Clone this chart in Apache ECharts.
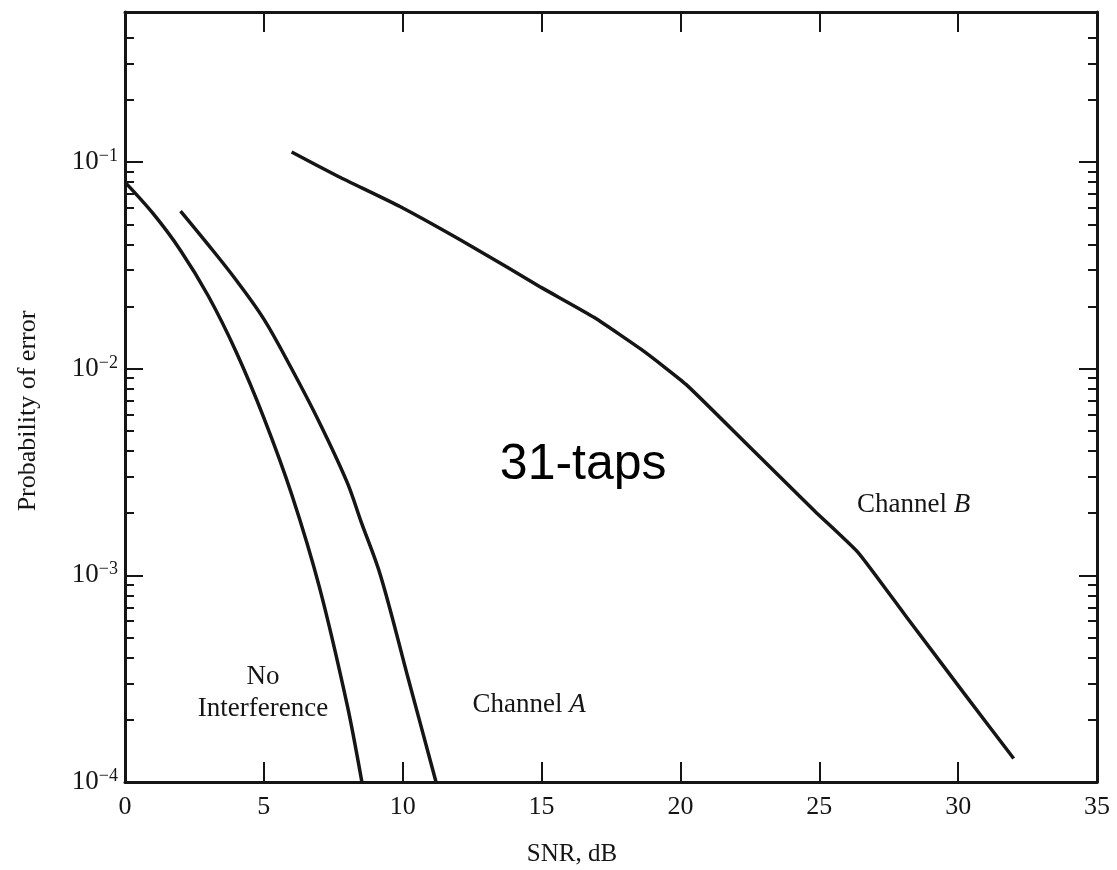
<!DOCTYPE html>
<html>
<head>
<meta charset="utf-8">
<script src="https://cdn.jsdelivr.net/npm/echarts@6/dist/echarts.min.js"></script>
<style>
  html, body { margin: 0; padding: 0; background: #ffffff; }
  #chart { width: 1117px; height: 870px; }
</style>
</head>
<body>
<div id="chart"></div>
<script>
// SNR (dB) and probability of error for each equalizer curve
const snrNoInterference = [0, 1, 2, 3, 4, 5, 6, 7, 8, 8.53];
const perNoInterference = [0.080, 0.0566, 0.0374, 0.0225, 0.0121, 5.79e-3, 2.47e-3, 8.77e-4, 2.36e-4, 1.0e-4];

const snrChannelA = [2.0, 3.0, 4.0, 5.0, 6.0, 7.0, 8.0, 8.5, 9.2, 10.2, 11.2];
const perChannelA = [0.058, 0.0398, 0.0269, 0.0174, 0.0100, 5.5e-3, 2.82e-3, 1.82e-3, 1.0e-3, 3.16e-4, 1.0e-4];

const snrChannelB = [6.0, 7.7, 9.9, 12.5, 15.0, 16.9, 18.7, 20.2, 22.35, 24.85, 26.4, 28.1, 30.2, 32.0];
const perChannelB = [0.112, 0.085, 0.061, 0.039, 0.0247, 0.0177, 0.0121, 8.4e-3, 4.37e-3, 2.04e-3, 1.29e-3, 6.4e-4, 2.7e-4, 1.3e-4];

// Axis ranges and tick values
const snrTicks = [0, 5, 10, 15, 20, 25, 30, 35];
const perMajorTicks = [1e-4, 1e-3, 1e-2, 1e-1];
const perMinorTicks = [
  2e-4, 3e-4, 4e-4, 5e-4, 6e-4, 7e-4, 8e-4, 9e-4,
  2e-3, 3e-3, 4e-3, 5e-3, 6e-3, 7e-3, 8e-3, 9e-3,
  2e-2, 3e-2, 4e-2, 5e-2, 6e-2, 7e-2, 8e-2, 9e-2,
  0.2, 0.3, 0.4
];
const perMin = 1e-4;
const perMax = 0.533;

// Text placed inside the plot: [snr, probability]
const curveNotes = [
  { text: 'No\nInterference', at: [4.97, 2.7e-4] },
  { text: 'Channel {i|A}', at: [14.55, 2.36e-4] },
  { text: 'Channel {i|B}', at: [28.4, 2.19e-3] }
];
const headline = { text: '31-taps', at: [16.5, 3.4e-3] };

const INK = '#151515';
const SERIF = '"Liberation Serif", "DejaVu Serif", "Times New Roman", serif';
const SANS = '"Liberation Sans", Arial, sans-serif';

const pairs = (xs, ys) => xs.map((x, i) => [x, ys[i]]);

const axisLine = { show: true, lineStyle: { color: INK, width: 3 } };

function powerLabel(v) {
  const e = Math.round(Math.log10(v));
  return '{b|10}{s|\u2212' + (-e) + '}';
}

function xAxisDef(position, showLabels) {
  return {
    type: 'value', min: snrTicks[0], max: snrTicks[snrTicks.length - 1],
    interval: snrTicks[1] - snrTicks[0],
    position: position,
    axisLine: axisLine,
    axisTick: { show: true, inside: true, length: 20, lineStyle: { color: INK, width: 2 } },
    axisLabel: {
      show: showLabels, color: INK, fontFamily: SERIF, fontSize: 26, margin: 12
    },
    splitLine: { show: false }
  };
}

function yAxisDef(position, ticks, len, withLine, withLabels) {
  return {
    type: 'log', logBase: 10, min: perMin, max: perMax,
    position: position,
    axisLine: withLine ? axisLine : { show: false },
    axisTick: { show: true, inside: true, length: len, customValues: ticks,
                lineStyle: { color: INK, width: 2 } },
    axisLabel: withLabels ? {
      show: true, customValues: ticks, margin: 7,
      formatter: powerLabel,
      rich: {
        b: { fontFamily: SERIF, fontSize: 27, color: INK, lineHeight: 30 },
        s: { fontFamily: SERIF, fontSize: 18, color: INK, lineHeight: 14, verticalAlign: 'top' }
      }
    } : { show: false },
    splitLine: { show: false },
    minorTick: { show: false },
    minorSplitLine: { show: false }
  };
}

const lineStyle = { color: INK, width: 3.5 };
function curve(name, xs, ys, smooth) {
  return {
    name: name, type: 'line', xAxisIndex: 0, yAxisIndex: 0,
    data: pairs(xs, ys), showSymbol: false, symbol: 'none',
    smooth: smooth, lineStyle: lineStyle, z: 5, animation: false
  };
}

const chart = echarts.init(document.getElementById('chart'), null, { renderer: 'canvas' });

chart.setOption({
  backgroundColor: '#ffffff',
  animation: false,
  grid: { left: 125, right: 20, top: 12, bottom: 88, containLabel: false },
  xAxis: [xAxisDef('bottom', true), xAxisDef('top', false)],
  yAxis: [
    yAxisDef('left', perMajorTicks, 18, true, true),
    yAxisDef('left', perMinorTicks, 9, false, false),
    yAxisDef('right', perMajorTicks, 18, true, false),
    yAxisDef('right', perMinorTicks, 9, false, false)
  ],
  series: [
    curve('No Interference', snrNoInterference, perNoInterference, 0.3),
    curve('Channel A', snrChannelA, perChannelA, 0.35),
    curve('Channel B', snrChannelB, perChannelB, 0.15)
  ]
});

function px(at) {
  return chart.convertToPixel({ xAxisIndex: 0, yAxisIndex: 0 }, at);
}

const graphics = curveNotes.map(n => {
  const p = px(n.at);
  return {
    type: 'text', x: p[0], y: p[1], z: 10,
    style: {
      text: n.text, fill: INK, font: '27px ' + SERIF,
      align: 'center', verticalAlign: 'middle', lineHeight: 32,
      rich: { i: { fontStyle: 'italic', fontFamily: SERIF, fontSize: 27, fill: INK } }
    }
  };
});

const hp = px(headline.at);
graphics.push({
  type: 'text', x: hp[0], y: hp[1], z: 10,
  style: { text: headline.text, fill: '#000000', font: '50px ' + SANS,
           align: 'center', verticalAlign: 'middle' }
});

// Axis titles
graphics.push({
  type: 'text', x: 572, y: 854, z: 10,
  style: { text: 'SNR, dB', fill: INK, font: '25px ' + SERIF,
           align: 'center', verticalAlign: 'middle' }
});
graphics.push({
  type: 'text', x: 28, y: 411, rotation: Math.PI / 2, z: 10,
  style: { text: 'Probability of error', fill: INK, font: '26px ' + SERIF,
           align: 'center', verticalAlign: 'middle' }
});

chart.setOption({ graphic: graphics });
</script>
</body>
</html>
